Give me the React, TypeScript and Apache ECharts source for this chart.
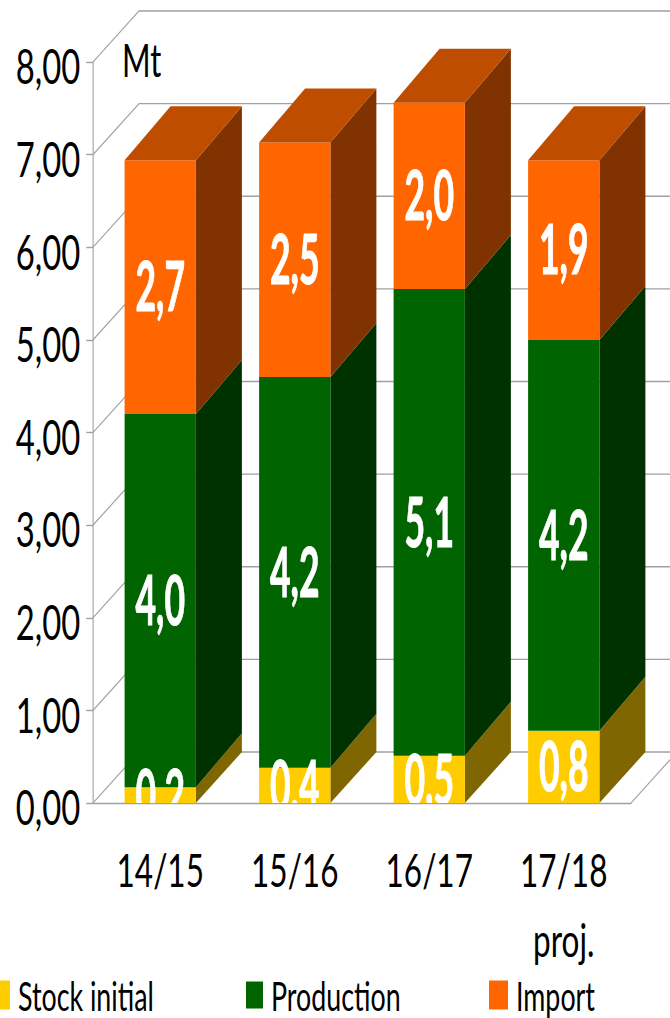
import React, { useEffect, useRef } from "react";
import * as echarts from "echarts";

const categories = ["14/15", "15/16", "16/17", "17/18\nproj."];
const stockValues = [0.17, 0.38, 0.51, 0.78];
const productionValues = [4.03, 4.22, 5.04, 4.22];
const importValues = [2.74, 2.53, 2.01, 1.94];
const stockLabels = ["0,2", "0,4", "0,5", "0,8"];
const productionLabels = ["4,0", "4,2", "5,1", "4,2"];
const importLabels = ["2,7", "2,5", "2,0", "1,9"];
const yTicks = [0, 1, 2, 3, 4, 5, 6, 7, 8];

const S = 0.67; // horizontal squeeze of the whole picture
const W = 670 / S;
const H = 1018;
const DX = 46 / S;
const DY_TOP = -54;
const DY_FLOOR = -51;
const GRAY = "#a0a0a0";
const FONT = "Lato";

const yellow = { face: "#ffcc00", side: "#806600" };
const green = { face: "#006400", side: "#003200" };
const orange = { face: "#ff6600", side: "#803300", top: "#bf4d00" };

function boxRender(col: { face: string; side: string; top?: string }) {
  return (_p: any, api: any) => {
    const i = api.value(0);
    const a = api.coord([i, api.value(1)]);
    const b = api.coord([i, api.value(2)]);
    const w = api.size([1, 0])[0] * 0.53;
    const l = a[0] - w / 2;
    const r = a[0] + w / 2;
    const dyA = api.value(1) === 0 ? DY_FLOOR : DY_TOP;
    const children: any[] = [
      {
        type: "polygon",
        shape: { points: [[r, a[1]], [r + DX, a[1] + dyA], [r + DX, b[1] + DY_TOP], [r, b[1]]] },
        style: { fill: col.side },
      },
      {
        type: "rect",
        shape: { x: l, y: b[1], width: w, height: a[1] - b[1] },
        style: { fill: col.face },
      },
    ];
    if (col.top) {
      children.push({
        type: "polygon",
        shape: { points: [[l, b[1]], [r, b[1]], [r + DX, b[1] + DY_TOP], [l + DX, b[1] + DY_TOP]] },
        style: { fill: col.top },
      });
    }
    return { type: "group", children };
  };
}

function stackData(base: number[], vals: number[]) {
  return vals.map((v, i) => [i, base[i], +(base[i] + v).toFixed(2)]);
}

export default function App() {
  const ref = useRef<HTMLDivElement>(null);
  useEffect(() => {
    document.body.style.margin = "0";
    const chart = echarts.init(ref.current!, undefined, { renderer: "svg" });
    const zero = stockValues.map(() => 0);
    const s1 = stockValues;
    const s2 = stockValues.map((v, i) => v + productionValues[i]);
    const labelRows = [
      ...stackData(zero, stockValues).map((d, i) => [...d, stockLabels[i]]),
      ...stackData(s1, productionValues).map((d, i) => [...d, productionLabels[i]]),
      ...stackData(s2, importValues).map((d, i) => [...d, importLabels[i]]),
    ];
    const legendText = { fontFamily: FONT, fontSize: 40, color: "#000", padding: [0, 0, 0, 7] };
    chart.setOption({
      animation: false,
      backgroundColor: "#fff",
      grid: { left: 93 / S, top: 62, width: 538 / S, height: 741, containLabel: false },
      xAxis: {
        type: "category",
        data: categories,
        axisLine: { lineStyle: { color: GRAY, width: 1.4 } },
        axisTick: { length: 11, alignWithLabel: false, lineStyle: { color: GRAY, width: 1.6 } },
        axisLabel: { fontFamily: FONT, fontSize: 47, color: "#000", margin: 31, lineHeight: 70, interval: 0 },
      },
      yAxis: {
        type: "value",
        min: 0,
        max: 8,
        interval: 1,
        axisLine: { show: true, lineStyle: { color: GRAY, width: 1.6 } },
        axisTick: { show: true, length: 10, lineStyle: { color: GRAY, width: 1.4 } },
        splitLine: { show: false },
        axisLabel: {
          fontFamily: FONT,
          fontSize: 49,
          color: "#000",
          margin: 19,
          verticalAlign: "top",
          lineHeight: 7,
          formatter: (v: number) => v.toFixed(2).replace(".", ","),
        },
      },
      legend: [
        { data: ["Stock initial"], left: -7 / S, top: 975, padding: 0, itemWidth: 17 / S, itemHeight: 29, textStyle: legendText, icon: "rect" },
        { data: ["Production"], left: 246 / S, top: 975, padding: 0, itemWidth: 17 / S, itemHeight: 27, textStyle: legendText, icon: "rect" },
        { data: ["Import"], left: 489 / S, top: 975, padding: 0, itemWidth: 19 / S, itemHeight: 29, textStyle: legendText, icon: "rect" },
      ],
      graphic: [
        {
          type: "text",
          x: 122 / S,
          y: 36,
          style: { text: "Mt", fontFamily: FONT, fontSize: 46, fill: "#000" },
        },
      ],
      series: [
        {
          type: "custom",
          name: "walls",
          coordinateSystem: "cartesian2d",
          clip: false,
          silent: true,
          data: yTicks.map((t) => [0, t]),
          encode: { x: 0, y: 1 },
          renderItem: (p: any, api: any) => {
            const cs = p.coordSys;
            const y = api.coord([0, api.value(1)])[1];
            const xl = cs.x;
            const xr = cs.x + cs.width;
            const lines: any[] = [
              {
                type: "polyline",
                shape: { points: [[xl, y], [xl + DX, y + DY_FLOOR], [xr + DX, y + DY_FLOOR]] },
                style: { fill: "none", stroke: GRAY, lineWidth: 1.4 },
              },
            ];
            if (api.value(1) === 0) {
              lines.push({
                type: "line",
                shape: { x1: xr, y1: y, x2: xr + DX, y2: y + DY_FLOOR },
                style: { stroke: GRAY, lineWidth: 1.4 },
              });
            }
            return { type: "group", children: lines };
          },
        },
        {
          type: "custom",
          name: "Stock initial",
          coordinateSystem: "cartesian2d",
          clip: false,
          itemStyle: { color: yellow.face },
          data: stackData(zero, stockValues),
          encode: { x: 0, y: [1, 2] },
          renderItem: boxRender(yellow),
        },
        {
          type: "custom",
          name: "Production",
          coordinateSystem: "cartesian2d",
          clip: false,
          itemStyle: { color: green.face },
          data: stackData(s1, productionValues),
          encode: { x: 0, y: [1, 2] },
          renderItem: boxRender(green),
        },
        {
          type: "custom",
          name: "Import",
          coordinateSystem: "cartesian2d",
          clip: false,
          itemStyle: { color: orange.face },
          data: stackData(s2, importValues),
          encode: { x: 0, y: [1, 2] },
          renderItem: boxRender(orange),
        },
        {
          type: "custom",
          name: "labels",
          coordinateSystem: "cartesian2d",
          clip: true,
          silent: true,
          data: labelRows,
          encode: { x: 0, y: [1, 2] },
          renderItem: (_p: any, api: any) => {
            const c = api.coord([api.value(0), (api.value(1) + api.value(2)) / 2]);
            return {
              type: "text",
              x: c[0],
              y: c[1] - 2,
              scaleX: 0.78,
              style: {
                text: api.value(3),
                fontFamily: FONT,
                fontWeight: "bold",
                fontSize: 68,
                fill: "#fff",
                stroke: "#fff",
                lineWidth: 1,
                align: "center",
                verticalAlign: "middle",
              },
            };
          },
        },
      ],
    });
    return () => chart.dispose();
  }, []);
  return (
    <div style={{ width: 670, height: H, overflow: "hidden", position: "relative" }}>
      <div
        ref={ref}
        style={{ width: W, height: H, transform: `scaleX(${S})`, transformOrigin: "0 0" }}
      />
    </div>
  );
}
